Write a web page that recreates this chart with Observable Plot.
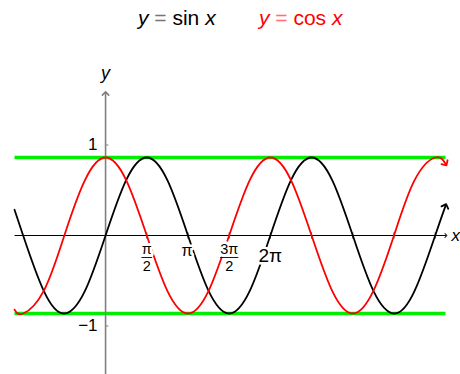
<!DOCTYPE html>
<html>
<head>
<meta charset="utf-8">
<script src="https://cdn.jsdelivr.net/npm/d3@7"></script>
<script src="https://cdn.jsdelivr.net/npm/@observablehq/plot@0.6"></script>
<style>
  html, body { margin: 0; padding: 0; background: #fff; }
  #wrap { position: relative; width: 460px; height: 374px; overflow: hidden; font-family: "Liberation Sans", Arial, sans-serif; }
  #wrap svg { position: absolute; left: 0; top: 0; }
  .ttl { position: absolute; top: 4px; font-size: 21px; white-space: nowrap; line-height: 28px; }
  .ttl i { font-style: italic; }
  .eq { color: #777; }
</style>
</head>
<body>
<div id="wrap">
  <div class="ttl" style="left:138px;color:#000"><i>y</i> <span class="eq">=</span> sin <i>x</i></div>
  <div class="ttl" style="left:259px;color:#ff0000"><i>y</i> <span style="color:#ff7070">=</span> cos <i>x</i></div>
</div>
<script>
// x positions are in multiples of π
const xKnots    = [-1.105, -1, -0.75, -0.5, -0.25, 0, 0.25, 0.5, 0.75, 1, 1.25, 1.5, 1.75, 2, 2.25, 2.5, 2.75, 3, 3.25, 3.5, 3.75, 4, 4.125];
const sinValues = [0.33, 0, -0.71, -1, -0.71, 0, 0.71, 1, 0.71, 0, -0.71, -1, -0.71, 0, 0.71, 1, 0.71, 0, -0.71, -1, -0.71, 0, 0.38];
const cosValues = [-0.95, -1, -0.71, 0, 0.71, 1, 0.71, 0, -0.71, -1, -0.71, 0, 0.71, 1, 0.71, 0, -0.71, -1, -0.71, 0, 0.71, 1, 0.92];
const boundLevels = [1, -1];
const xTicks = [0.5, 1, 1.5, 2, 2.5, 3, 3.5, 4];
const fracTicks = [0.5, 1.5];
const fracNumerators = ["π", "3π"];
const fracDenoms = ["2", "2"];
const piTick = [1];
const piLabel = ["π"];
const twoPiTick = [2];
const twoPiLabel = ["2π"];
const yTickValues = [1.16, -1.16];
const yTickLabels = ["1", "−1"];
const xExtent = [-1.105, 4.125];
const yAxisExtent = [-1.78, 1.82];

const sinData = xKnots.map((x, i) => ({x, y: sinValues[i]}));
const cosData = xKnots.map((x, i) => ({x, y: cosValues[i]}));
const bounds = boundLevels.map(y => ({x1: xExtent[0], x2: xExtent[1], y}));
const fracs = fracTicks.map((x, i) => ({x, num: fracNumerators[i], den: fracDenoms[i], w: i === 0 ? 0.065 : 0.11}));
const piData = piTick.map((x, i) => ({x, label: piLabel[i]}));
const twoPiData = twoPiTick.map((x, i) => ({x, label: twoPiLabel[i]}));
const yticks = yTickValues.map((y, i) => ({y, label: yTickLabels[i]}));

const font = "Liberation Sans, Arial, sans-serif";

const chart = Plot.plot({
  width: 460,
  height: 374,
  margin: 0,
  style: {fontFamily: font, background: "transparent", overflow: "visible"},
  x: {domain: xExtent, range: [14, 445], axis: null},
  y: {domain: [-1, 1], range: [313, 157], axis: null},
  marks: [
    // green bounds
    Plot.link(bounds, {x1: "x1", x2: "x2", y1: "y", y2: "y", stroke: "#00ee00", strokeWidth: 3.5}),
    // x axis
    Plot.link([0], {x1: xExtent[0], x2: xExtent[1] + 0.005, y1: 0, y2: 0, stroke: "#000", strokeWidth: 1, markerEnd: "arrow"}),
    Plot.link(xTicks, {x1: d => d, x2: d => d, y1: -0.04, y2: 0.04, stroke: "#444", strokeWidth: 1}),
    // y axis
    Plot.link([0], {x1: 0, x2: 0, y1: yAxisExtent[0], y2: yAxisExtent[1], stroke: "#808080", strokeWidth: 1.6, markerEnd: "arrow"}),
    Plot.link(yticks, {x1: 0, x2: 0.035, y1: "y", y2: "y", stroke: "#808080", strokeWidth: 1}),
    // curves
    Plot.line(sinData, {x: "x", y: "y", curve: "natural", stroke: "#000", strokeWidth: 1.8, markerEnd: "arrow"}),
    Plot.line(cosData, {x: "x", y: "y", curve: "natural", stroke: "#ff0000", strokeWidth: 1.8, markerEnd: "arrow"}),
    // x tick labels (with white halo)
    Plot.text(fracs, {x: "x", y: 0, text: "num", dy: 14, fontSize: 14.5, fill: "#000", stroke: "white", strokeWidth: 6, paintOrder: "stroke"}),
    Plot.text(fracs, {x: "x", y: 0, text: "den", dy: 31, fontSize: 14.5, fill: "#000", stroke: "white", strokeWidth: 6, paintOrder: "stroke"}),
    Plot.link(fracs, {x1: d => d.x - d.w, x2: d => d.x + d.w, y1: 0, y2: 0, dy: 22, stroke: "#000", strokeWidth: 0.9}),
    Plot.text(piData, {x: "x", y: 0, text: "label", dy: 15, dx: -1, fontSize: 16, fill: "#000", stroke: "white", strokeWidth: 5, paintOrder: "stroke"}),
    Plot.text(twoPiData, {x: "x", y: 0, text: "label", dy: 20, fontSize: 19, fill: "#000", stroke: "white", strokeWidth: 5, paintOrder: "stroke"}),
    // y tick labels
    Plot.text(yticks, {x: 0, y: "y", text: "label", dx: -8, textAnchor: "end", fontSize: 17, fill: "#000"}),
    // axis labels
    Plot.text(["y"], {x: 0, y: 2.08, text: d => d, fontSize: 18, fontStyle: "italic", fill: "#000"}),
    Plot.text(["x"], {x: 4.125, y: 0, text: d => d, fontSize: 17, fontStyle: "italic", fill: "#000", textAnchor: "start", dx: 6})
  ]
});
document.getElementById("wrap").appendChild(chart);
</script>
</body>
</html>
